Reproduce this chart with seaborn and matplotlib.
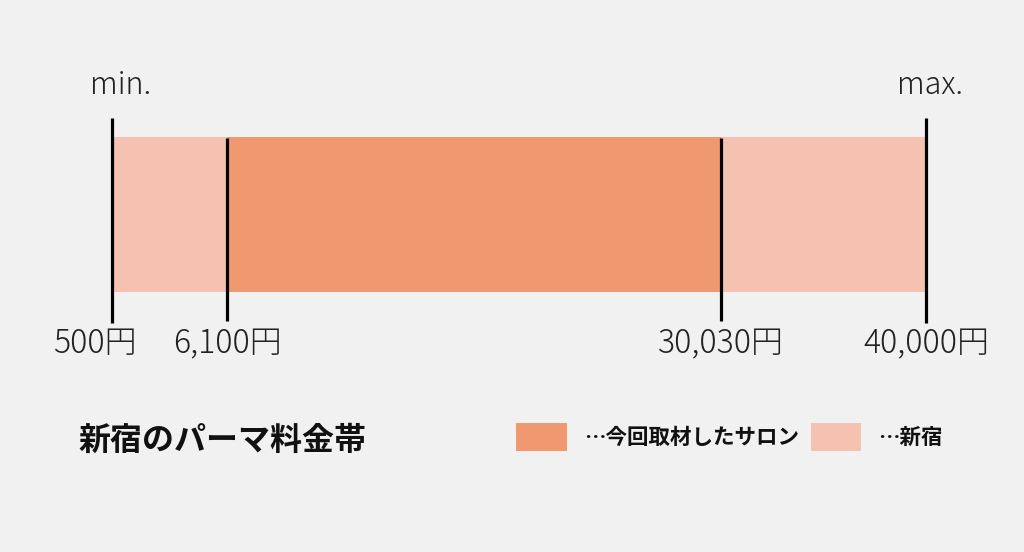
import matplotlib
matplotlib.use("Agg")
import matplotlib.pyplot as plt
import seaborn as sns
from matplotlib.patches import Patch

# data (yen)
shinjuku_range = [500, 40000]
salon_range = [6100, 30030]
price_marks = [500, 6100, 30030, 40000]
price_labels = ["500円", "6,100円", "30,030円", "40,000円"]
end_labels = ["min.", "max."]
legend_labels = ["…今回取材したサロン", "…新宿"]
title = "新宿のパーマ料金帯"

bg = "#f2f1f1"
c_salon = "#f0986f"
c_area = "#f5c1b0"

sns.set_theme(style="white")
plt.rcParams["font.family"] = ["Noto Sans CJK JP", "DejaVu Sans"]

fig = plt.figure(figsize=(10.24, 5.52), dpi=100, facecolor=bg)
ax = fig.add_axes([0, 0, 1, 1], facecolor=bg)
# y in pixel-like units, top = 0
ax.set_ylim(552, 0)
ax.set_xlim(-4935, 44755)
ax.axis("off")

bar_y, bar_h = 214.5, 155
ax.barh(bar_y, shinjuku_range[1] - shinjuku_range[0], left=shinjuku_range[0],
        height=bar_h, color=c_area, linewidth=0)
ax.barh(bar_y, salon_range[1] - salon_range[0], left=salon_range[0],
        height=bar_h, color=c_salon, linewidth=0)

# marker lines: outer ones are taller
for i, v in enumerate(price_marks):
    if v in shinjuku_range:
        ax.vlines(v, 118, 323, color="black", linewidth=2.3)
    else:
        ax.vlines(v, 138, 321, color="black", linewidth=2.3)
    dx = -12 if i == 0 else 0
    ax.annotate(price_labels[i], (v, 344), xytext=(dx, 0), textcoords="offset points",
                ha="center", va="center", fontsize=23, color="#222222",
                fontweight="light")

ax.annotate(end_labels[0], (shinjuku_range[0], 85), xytext=(6, 0),
            textcoords="offset points", ha="center", va="center",
            fontsize=22, color="#222222", fontweight="light")
ax.annotate(end_labels[1], (shinjuku_range[1], 85), xytext=(3, 0),
            textcoords="offset points", ha="center", va="center",
            fontsize=22, color="#222222", fontweight="light")

fig.text(78 / 1024, 1 - 441 / 552, title, ha="left", va="center",
         fontsize=23, fontweight="bold", color="#111111")

handles = [Patch(facecolor=c_salon, edgecolor="none"),
           Patch(facecolor=c_area, edgecolor="none")]
leg = fig.legend(handles, legend_labels, loc="center left",
                 bbox_to_anchor=(497 / 1024, 1 - 437 / 552), ncol=2,
                 frameon=False, handlelength=2.33,
                 handleheight=1.65, handletextpad=0.8, columnspacing=0.55,
                 prop={"weight": "bold", "size": 15.5})
for t in leg.get_texts():
    t.set_color("#111111")

fig.savefig("out.png", dpi=100, facecolor=bg)
